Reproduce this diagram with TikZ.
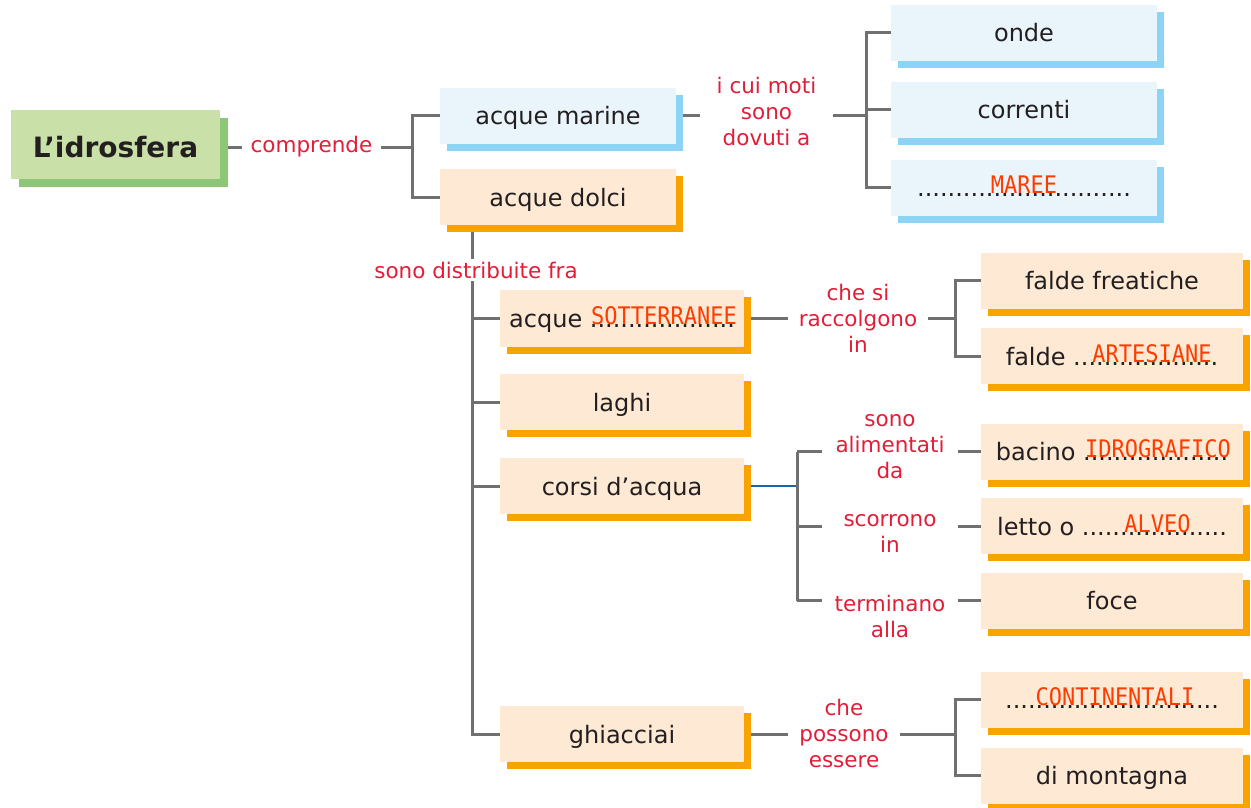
\documentclass[tikz,border=0pt]{standalone}
\usepackage{fontspec}
\setmainfont{DejaVu Sans}
\newfontfamily\fillfont{DejaVu Sans Mono}
\usetikzlibrary{shadows,calc}
\definecolor{txt}{RGB}{35,31,32}
\definecolor{gfill}{RGB}{201,225,168}
\definecolor{gshadow}{RGB}{141,198,118}
\definecolor{bfill}{RGB}{233,245,251}
\definecolor{bshadow}{RGB}{140,211,245}
\definecolor{pfill}{RGB}{253,233,212}
\definecolor{pshadow}{RGB}{248,163,0}
\definecolor{labred}{RGB}{226,29,56}
\definecolor{fillred}{RGB}{255,60,0}
\definecolor{linegray}{RGB}{112,112,112}
\definecolor{lineblue}{RGB}{30,100,170}
\begin{document}
\begin{tikzpicture}[x=1pt,y=-1pt,
  cbox/.style={inner sep=0pt, minimum height=56pt, text height=20pt, text depth=2pt, text=txt, font=\fontsize{24}{28}\selectfont},
  gbox/.style={cbox, fill=gfill, general shadow={fill=gshadow, shadow xshift=8pt, shadow yshift=-8pt}},
  bbox/.style={cbox, minimum width=266pt, fill=bfill, general shadow={fill=bshadow, shadow xshift=7pt, shadow yshift=-7pt}},
  pbox/.style={cbox, fill=pfill, general shadow={fill=pshadow, shadow xshift=7pt, shadow yshift=-7pt}},
  lab/.style={text=labred, font=\fontsize{21.5}{26}\selectfont, align=center, inner sep=0pt},
  fillin/.style={text=fillred, font=\fillfont\fontsize{22}{22}\selectfont, inner sep=0pt, anchor=base},
  conn/.style={draw=linegray, line width=3pt},
  bconn/.style={draw=lineblue, line width=2.5pt}
]
\useasboundingbox (0,0) rectangle (1251,807);

% boxes
\node[gbox, minimum width=209pt, minimum height=69pt, text height=25pt, text depth=0pt, font=\fontsize{28}{32}\selectfont\bfseries] (idro) at (115.5,144.5) {L’idrosfera};
\node[bbox, minimum width=236pt] (marine) at (558,115.5) {acque marine};
\node[pbox, minimum width=236pt] (dolci) at (558,197) {acque dolci};

\node[bbox] (onde) at (1024,32.5) {onde};
\node[bbox] (correnti) at (1024,109.5) {correnti};
\node[bbox] (maree) at (1024,187.5) {............................};

\node[pbox, minimum width=244pt, minimum height=57pt] (sott) at (622,318.5) {acque ...................};
\node[pbox, minimum width=244pt] (laghi) at (622,402) {laghi};
\node[pbox, minimum width=244pt] (corsi) at (622,486) {corsi d’acqua};
\node[pbox, minimum width=244pt] (ghiac) at (622,734) {ghiacciai};

\node[pbox, minimum width=262pt] (freat) at (1112,280.5) {falde freatiche};
\node[pbox, minimum width=262pt] (artes) at (1112,356) {falde ...................};
\node[pbox, minimum width=262pt] (bacino) at (1112,451.5) {bacino ...................};
\node[pbox, minimum width=262pt] (letto) at (1112,526) {letto o ...................};
\node[pbox, minimum width=262pt] (foce) at (1112,600.5) {foce};
\node[pbox, minimum width=262pt] (contin) at (1112,699.5) {............................};
\node[pbox, minimum width=262pt] (mont) at (1112,775.5) {di montagna};

% filled-in answers
\node[fillin] (rmaree) at ($(maree.base)+(0,-3)$) {\scalebox{1}[1.1]{MAREE}};
\node[fillin] (rsott) at ($(sott.base)+(42,-3)$) {\scalebox{1}[1.1]{SOTTERRANEE}};
\node[fillin] (rartes) at ($(artes.base)+(40,-3)$) {\scalebox{1}[1.1]{ARTESIANE}};
\node[fillin] (rbacino) at ($(bacino.base)+(46,-3)$) {\scalebox{1}[1.1]{IDROGRAFICO}};
\node[fillin] (rletto) at ($(letto.base)+(45.5,-3)$) {\scalebox{1}[1.1]{ALVEO}};
\node[fillin] (rcontin) at ($(contin.base)+(3,-3)$) {\scalebox{1}[1.1]{CONTINENTALI}};

% labels
\node[lab, minimum width=139pt] (comp) at (311.5,147) {comprende};
\node[lab, minimum width=133pt] (moti) at (766.5,111) {i cui moti\\sono\\dovuti a};
\node[lab, minimum width=140pt] (racc) at (858,318) {che si\\raccolgono\\in};
\node[lab, minimum width=136pt] (alim) at (890,447) {sono\\alimentati\\da};
\node[lab, minimum width=136pt] (scorr) at (890,533) {scorrono\\in};
\node[lab, minimum width=136pt] (term) at (890,616) {terminano\\alla};
\node[lab, minimum width=112pt] (poss) at (844,733) {che\\possono\\essere};

% forks
\coordinate (idroR) at ([xshift=8pt]idro.east);
\coordinate (marineR) at ([xshift=7pt]marine.east);
\coordinate (sottR) at ([xshift=7pt]sott.east);
\coordinate (corsiR) at ([xshift=7pt]corsi.east);
\coordinate (ghiacR) at ([xshift=7pt]ghiac.east);
\coordinate (f1) at (412,147);
\coordinate (f2) at (866,115.5);
\coordinate (t0) at (472,232);
\coordinate (f3) at (955,318.5);
\coordinate (f4) at (797,0);
\coordinate (f5) at (955,734);

% connectors
\draw[conn] (idroR |- comp.west) -- (comp.west);
\draw[conn] (comp.east) -- (f1);
\draw[conn] (marine.west) -| (f1) |- (dolci.west);

\draw[conn] (marineR) -- (moti.west |- marineR);
\draw[conn] (moti.east |- marineR) -- (f2);
\draw[conn] (onde.west) -| (f2) |- (maree.west);
\draw[conn] (f2 |- correnti.west) -- (correnti.west);

\draw[conn] (t0) |- (ghiac.west);
\draw[conn] (t0 |- sott.west) -- (sott.west);
\draw[conn] (t0 |- laghi.west) -- (laghi.west);
\draw[conn] (t0 |- corsi.west) -- (corsi.west);
\node[lab, fill=white, inner sep=3pt] (distr) at (476,270) {sono distribuite fra};

\draw[conn] (sottR) -- (racc.west |- sottR);
\draw[conn] (racc.east |- sottR) -- (f3);
\draw[conn] (freat.west) -| (f3) |- (artes.west);

\draw[bconn] (corsiR) -- (corsiR -| f4);
\draw[conn] (f4 |- bacino.west) -- (f4 |- foce.west);
\draw[conn] (f4 |- bacino.west) -- (alim.west |- bacino.west);
\draw[conn] (alim.east |- bacino.west) -- (bacino.west);
\draw[conn] (f4 |- letto.west) -- (scorr.west |- letto.west);
\draw[conn] (scorr.east |- letto.west) -- (letto.west);
\draw[conn] (f4 |- foce.west) -- (term.west |- foce.west);
\draw[conn] (term.east |- foce.west) -- (foce.west);

\draw[conn] (ghiacR) -- (poss.west |- ghiacR);
\draw[conn] (poss.east |- ghiacR) -- (f5);
\draw[conn] (contin.west) -| (f5) |- (mont.west);
\end{tikzpicture}
\end{document}
